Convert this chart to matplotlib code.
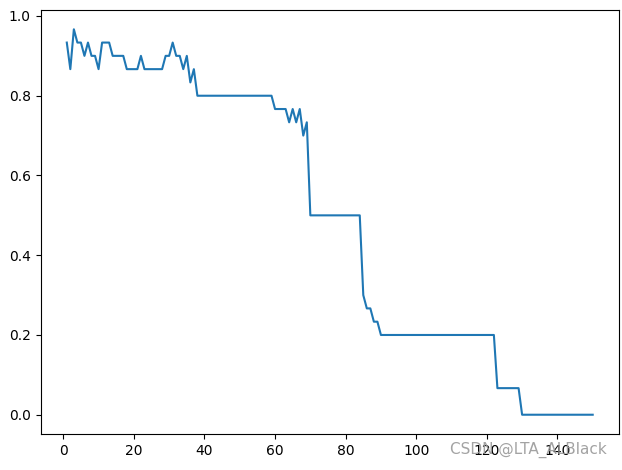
import numpy as np
import matplotlib
matplotlib.use("Agg")
import matplotlib.pyplot as plt

# 每个点的值（1/30 的倍数），x = 1..150
head = [28, 26, 29, 28, 28, 27, 28, 27, 27, 26,
        28, 28, 28, 27, 27, 27, 27, 26, 26, 26,
        26, 27, 26, 26, 26, 26, 26, 26, 27, 27,
        28, 27, 27, 26, 27, 25, 26]
mid = [24] * 22 + [23, 23, 23, 23, 22, 23, 22, 23, 21, 22]
low = [15] * 15 + [9, 8, 8, 7, 7]
tail = [6] * 33 + [2] * 7 + [0] * 21
counts = head + mid + low + tail
acc = np.array(counts) / 30
epochs = np.arange(1, len(acc) + 1)

fig = plt.figure(figsize=(6.22, 4.70), dpi=100)
ax = fig.add_axes([40.5 / 622, 36 / 470, 578.5 / 622, 424 / 470])
ax.plot(epochs, acc)
ax.set_yticks([0.0, 0.2, 0.4, 0.6, 0.8, 1.0])

# 水印
fig.text(0.975, 0.025, "CSDN @LTA_ALBlack", ha="right", va="bottom",
         fontsize=11, color="#999999", alpha=0.9)

fig.savefig("out.png", dpi=100)
